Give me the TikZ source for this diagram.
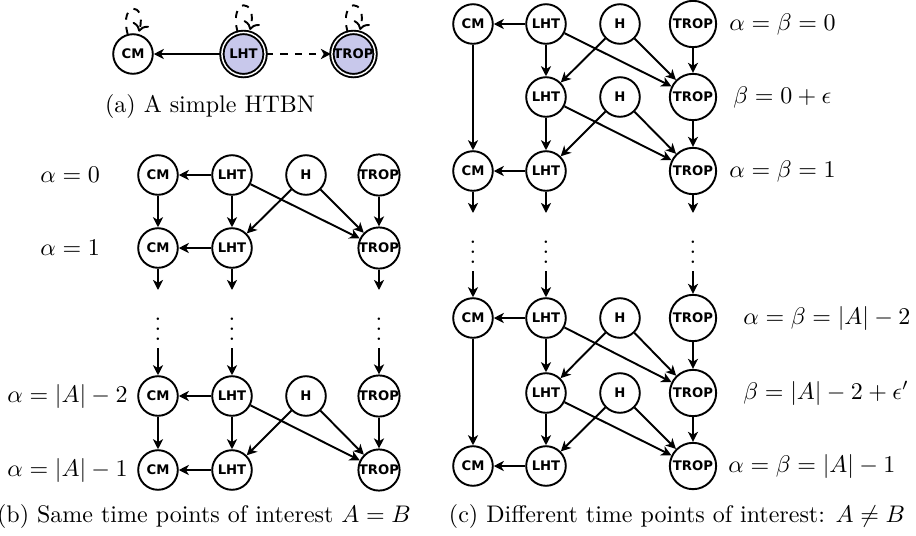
\documentclass[tikz,border=0pt]{standalone}
\usepackage{fontspec}
\newfontfamily\varfont{DejaVu Sans}
\usetikzlibrary{arrows.meta}
\definecolor{obsblue}{RGB}{200,200,235}
\tikzset{
  arc/.style={-{Stealth[length=4.2pt,width=4.2pt,inset=1.2pt]}, thick},
  var/.style={circle, draw, thick, minimum size=16.5pt, inner sep=0pt,
    font=\fontsize{5.5}{6.5}\selectfont\varfont\bfseries},
  varc/.style={var, inner sep=0.85pt},
  obs/.style={var, fill=obsblue, double, double distance=0.6pt, minimum size=18pt},
}
\begin{document}
\begin{tikzpicture}[x=0.41667pt, y=-0.41667pt]
  \useasboundingbox (0,0) rectangle (916,535);
  %(a) rete semplice
  \node[var] (cma) at (133,54) {CM};
  \node[obs] (lhta) at (243.5,54) {LHT};
  \node[obs] (tropa) at (353.5,54) {TROP};
  \draw[arc] (lhta) -- (cma);
  \draw[arc, dashed] (lhta) -- (tropa);
  \draw[arc, dashed] (cma) edge[loop above] (cma)
    (lhta) edge[loop above] (lhta)
    (tropa) edge[loop above] (tropa);
  \node[anchor=base] (capa) at (210,112) {(a) A simple HTBN};

  %(b) nodi
  \node[var] (cmb1) at (158,175) {CM};
  \node[var] (lhtb1) at (232,175) {LHT};
  \node[var] (hb1) at (306,175) {H};
  \node[var] (tropb1) at (379,175) {TROP};
  \node[var] (cmb2) at (158,248) {CM};
  \node[var] (lhtb2) at (232,248) {LHT};
  \node[var] (tropb2) at (379,248) {TROP};
  \coordinate (cmbe) at (158,290);
  \coordinate (lhtbe) at (232,290);
  \coordinate (tropbe) at (379,290);
  \node[anchor=base] (cmbd) at (158,340) {$\vdots$};
  \node[anchor=base] (lhtbd) at (232,340) {$\vdots$};
  \node[anchor=base] (tropbd) at (379,340) {$\vdots$};
  \node[var] (cmb3) at (158,396) {CM};
  \node[var] (lhtb3) at (232,396) {LHT};
  \node[var] (hb3) at (306,396) {H};
  \node[var] (tropb3) at (379,396) {TROP};
  \node[var] (cmb4) at (158,470) {CM};
  \node[var] (lhtb4) at (232,470) {LHT};
  \node[var] (tropb4) at (379,470) {TROP};
  %(b) archi
  \draw[arc] (lhtb1) edge (cmb1) edge (lhtb2) edge (tropb2);
  \draw[arc] (hb1) edge (lhtb2) edge (tropb2);
  \draw[arc] (cmb1) edge (cmb2) (tropb1) edge (tropb2);
  \draw[arc] (lhtb2) edge (cmb2) edge (lhtbe);
  \draw[arc] (cmb2) edge (cmbe) (tropb2) edge (tropbe);
  \draw[arc] (cmbd) edge (cmb3) (lhtbd) edge (lhtb3) (tropbd) edge (tropb3);
  \draw[arc] (lhtb3) edge (cmb3) edge (lhtb4) edge (tropb4);
  \draw[arc] (hb3) edge (lhtb4) edge (tropb4);
  \draw[arc] (cmb3) edge (cmb4) (tropb3) edge (tropb4);
  \draw[arc] (lhtb4) -- (cmb4);
  %(b) etichette
  \node[anchor=west] (ab1) at (32,175) {$\alpha=0$};
  \node[anchor=west] (ab2) at (32,248) {$\alpha=1$};
  \node[anchor=east] (ab3) at (136,396) {$\alpha=|A|-2$};
  \node[anchor=east] (ab4) at (136,470) {$\alpha=|A|-1$};
  \node[anchor=base] (capb) at (204,522) {(b) Same time points of interest $A=B$};

  %(c) nodi
  \node[varc] (cmc1) at (473,24) {CM};
  \node[varc] (lhtc1) at (546,24) {LHT};
  \node[varc] (hc1) at (620,24) {H};
  \node[varc] (tropc1) at (693,24) {TROP};
  \node[varc] (lhtc2) at (546,97) {LHT};
  \node[varc] (hc2) at (620,97) {H};
  \node[varc] (tropc2) at (693,97) {TROP};
  \node[varc] (cmc3) at (473,171) {CM};
  \node[varc] (lhtc3) at (546,171) {LHT};
  \node[varc] (tropc3) at (693,171) {TROP};
  \coordinate (cmce) at (473,213);
  \coordinate (lhtce) at (546,213);
  \coordinate (tropce) at (693,213);
  \node[anchor=base] (cmcd) at (473,263) {$\vdots$};
  \node[anchor=base] (lhtcd) at (546,263) {$\vdots$};
  \node[anchor=base] (tropcd) at (693,263) {$\vdots$};
  \node[varc] (cmc4) at (473,318) {CM};
  \node[varc] (lhtc4) at (546,318) {LHT};
  \node[varc] (hc4) at (620,318) {H};
  \node[varc] (tropc4) at (693,318) {TROP};
  \node[varc] (lhtc5) at (546,393) {LHT};
  \node[varc] (hc5) at (620,393) {H};
  \node[varc] (tropc5) at (693,393) {TROP};
  \node[varc] (cmc6) at (473,466) {CM};
  \node[varc] (lhtc6) at (546,466) {LHT};
  \node[varc] (tropc6) at (693,466) {TROP};
  %(c) archi
  \draw[arc] (lhtc1) edge (cmc1) edge (lhtc2) edge (tropc2);
  \draw[arc] (hc1) edge (lhtc2) edge (tropc2);
  \draw[arc] (cmc1) edge (cmc3) (tropc1) edge (tropc2);
  \draw[arc] (lhtc2) edge (lhtc3) edge (tropc3);
  \draw[arc] (hc2) edge (lhtc3) edge (tropc3);
  \draw[arc] (tropc2) -- (tropc3);
  \draw[arc] (lhtc3) edge (cmc3) edge (lhtce);
  \draw[arc] (cmc3) edge (cmce) (tropc3) edge (tropce);
  \draw[arc] (cmcd) edge (cmc4) (lhtcd) edge (lhtc4) (tropcd) edge (tropc4);
  \draw[arc] (lhtc4) edge (cmc4) edge (lhtc5) edge (tropc5);
  \draw[arc] (hc4) edge (lhtc5) edge (tropc5);
  \draw[arc] (cmc4) edge (cmc6) (tropc4) edge (tropc5);
  \draw[arc] (lhtc5) edge (lhtc6) edge (tropc6);
  \draw[arc] (hc5) edge (lhtc6) edge (tropc6);
  \draw[arc] (tropc5) -- (tropc6);
  \draw[arc] (lhtc6) -- (cmc6);
  %(c) etichette
  \node[anchor=west] (ac1) at (721,24) {$\alpha=\beta=0$};
  \node[anchor=west] (ac2) at (725,97) {$\beta=0+\epsilon$};
  \node[anchor=west] (ac3) at (721,171) {$\alpha=\beta=1$};
  \node[anchor=west] (ac4) at (735,318) {$\alpha=\beta=|A|-2$};
  \node[anchor=west] (ac5) at (735,393) {$\beta=|A|-2+\epsilon'$};
  \node[anchor=west] (ac6) at (720,466) {$\alpha=\beta=|A|-1$};
  \node[anchor=base] (capc) at (677,522) {(c) Different time points of interest: $A\neq B$};
\end{tikzpicture}
\end{document}
